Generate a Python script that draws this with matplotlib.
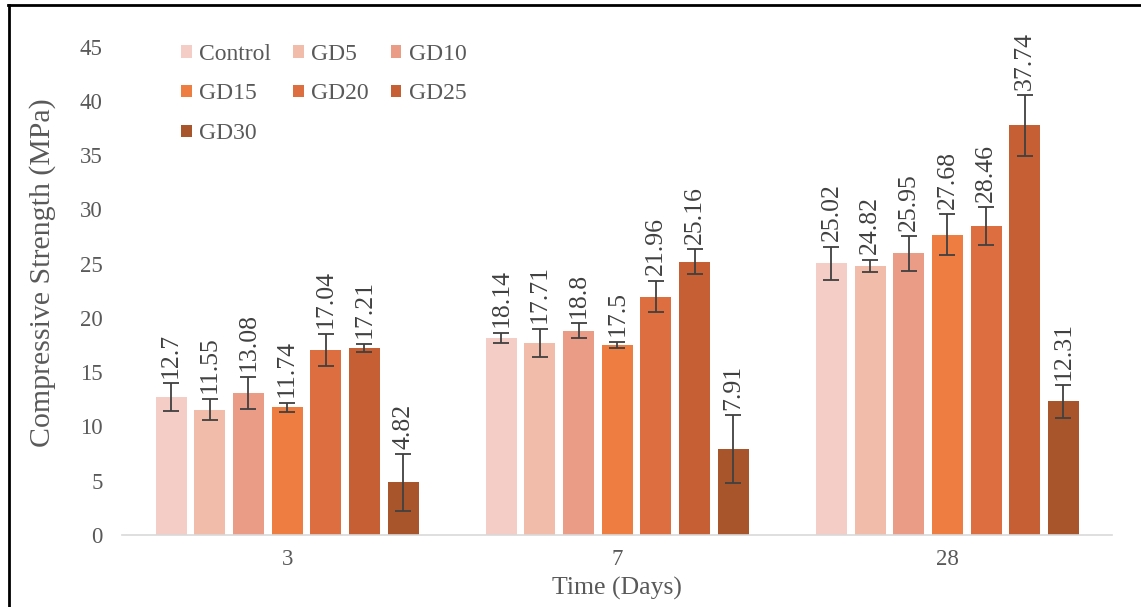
import numpy as np
import matplotlib
matplotlib.use("Agg")
import matplotlib.pyplot as plt
from matplotlib.lines import Line2D

plt.rcParams['font.family'] = ['Liberation Serif', 'DejaVu Serif']

# curing age groups and mix labels
days = ['3', '7', '28']
mixes = ['Control', 'GD5', 'GD10', 'GD15', 'GD20', 'GD25', 'GD30']

# mean compressive strength (MPa), one list per mix: [3, 7, 28 days]
control = [12.7, 18.14, 25.02]
gd5 = [11.55, 17.71, 24.82]
gd10 = [13.08, 18.8, 25.95]
gd15 = [11.74, 17.5, 27.68]
gd20 = [17.04, 21.96, 28.46]
gd25 = [17.21, 25.16, 37.74]
gd30 = [4.82, 7.91, 12.31]

# standard deviations
control_err = [1.3, 0.5, 1.55]
gd5_err = [1.0, 1.3, 0.55]
gd10_err = [1.5, 0.7, 1.6]
gd15_err = [0.45, 0.3, 1.9]
gd20_err = [1.5, 1.45, 1.75]
gd25_err = [0.4, 1.15, 2.8]
gd30_err = [2.6, 3.1, 1.5]

means = [control, gd5, gd10, gd15, gd20, gd25, gd30]
errs = [control_err, gd5_err, gd10_err, gd15_err, gd20_err, gd25_err, gd30_err]
colors = ['#F5CDC7', '#F2BCAA', '#EA9C86', '#EE7D42', '#DC6E40', '#C65F33', '#A8552C']

fig = plt.figure(figsize=(11.41, 6.07), dpi=100)
ax = fig.add_axes([0.107, 0.119, 0.868, 0.804])

x = np.arange(len(days))
group = 0.82
slot = group / len(mixes)
bw = slot * 0.8

bars = []
for i, (m, e, c) in enumerate(zip(means, errs, colors)):
    xi = x - group / 2 + slot * (i + 0.5)
    b = ax.bar(xi, m, width=bw, color=c, label=mixes[i], zorder=2)
    ax.errorbar(xi, m, yerr=e, fmt='none', ecolor='#404040', elinewidth=1.3,
                capsize=5.5, capthick=1.3, zorder=3)
    bars.append(b)
    for xx, v, ee in zip(xi, m, e):
        ax.text(xx, v + ee + 0.5, f'{v:g}', rotation=90, ha='center', va='bottom',
                fontsize=18.5, color='#404040')

ax.set_xlim(-0.5, 2.5)
ax.set_ylim(0, 45)
ax.set_yticks(np.arange(0, 46, 5))
ax.set_xticks(x)
ax.set_xticklabels(days)
ax.tick_params(axis='both', length=0, labelsize=16.5, labelcolor='#595959')
ax.tick_params(axis='y', pad=14)
ax.tick_params(axis='x', pad=10)
for s in ['top', 'right', 'left']:
    ax.spines[s].set_visible(False)
ax.spines['bottom'].set_color('#D9D9D9')
ax.spines['bottom'].set_linewidth(1.2)

ax.set_ylabel('Compressive Strength (MPa)', fontsize=21.5, color='#595959')
ax.yaxis.set_label_coords(-0.067, 0.538)
ax.set_xlabel('Time (Days)', fontsize=18.5, color='#595959')
ax.xaxis.set_label_coords(0.5, -0.087)

# legend in row-major order across 3 columns
order = [0, 3, 6, 1, 4, 2, 5]
leg = ax.legend([bars[k] for k in order], [mixes[k] for k in order], ncol=3,
                loc='upper left', bbox_to_anchor=(0.038, 1.05), frameon=False,
                prop={'family': 'Liberation Serif', 'size': 17},
                handlelength=0.45, handleheight=0.45,
                handletextpad=0.3, labelspacing=0.8, columnspacing=0.95)
for t in leg.get_texts():
    t.set_color('#595959')

# outer frame lines (top and left)
fig.add_artist(Line2D([0.007, 1.0], [0.992, 0.992], color='black', lw=2,
                      transform=fig.transFigure))
fig.add_artist(Line2D([0.008, 0.008], [0.0, 0.992], color='black', lw=2,
                      transform=fig.transFigure))

fig.savefig('out.png', dpi=100)
